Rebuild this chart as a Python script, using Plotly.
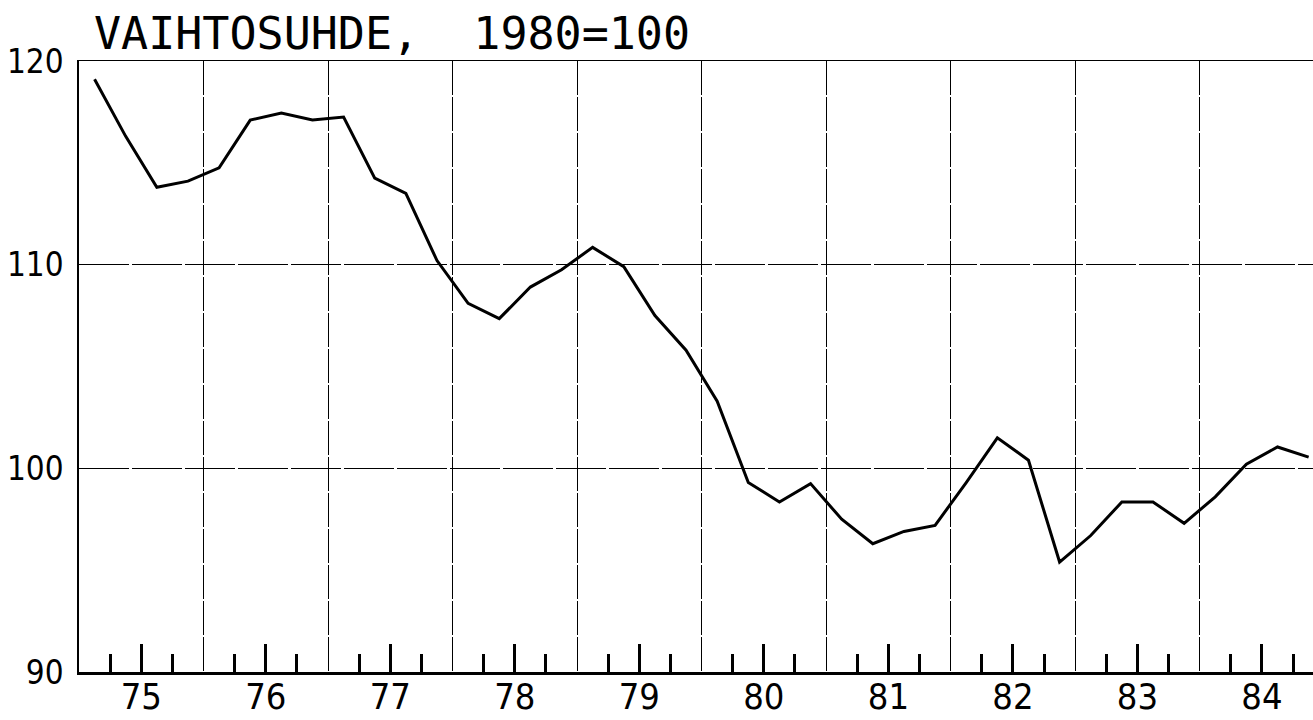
import plotly.graph_objects as go

# ---- data -------------------------------------------------------------
years = [75, 76, 77, 78, 79, 80, 81, 82, 83, 84]
quarters = [1, 2, 3, 4]
values_1975_84 = [
    119.1, 116.3, 113.8, 114.1,     # 75
    114.75, 117.1, 117.45, 117.1,   # 76
    117.25, 114.25, 113.5, 110.2,   # 77
    108.1, 107.35, 108.9, 109.75,   # 78
    110.85, 109.9, 107.5, 105.8,    # 79
    103.3, 99.3, 98.35, 99.25,      # 80
    97.5, 96.3, 96.9, 97.2,         # 81
    99.3, 101.5, 100.4, 95.4,       # 82
    96.7, 98.35, 98.35, 97.3,       # 83
    98.6, 100.2, 101.05, 100.55,    # 84
]
year_labels = ["75", "76", "77", "78", "79", "80", "81", "82", "83", "84"]
y_ticks = [90, 100, 110, 120]
title_text = "VAIHTOSUHDE,  1980=100"

# quarter positions: each year spans [year-0.5, year+0.5]
x_pos = [y - 0.5 + (q - 0.5) / 4 for y in years for q in quarters]
year_bounds = [y - 0.5 for y in years]
quarter_ticks = [y + d for y in years for d in (-0.25, 0.25)]

label_font = "Liberation Sans Narrow, DejaVu Sans Condensed, Arial Narrow, sans-serif"

fig = go.Figure()
fig.add_trace(go.Scatter(
    x=x_pos, y=values_1975_84, mode="lines",
    line=dict(color="black", width=3),
    hoverinfo="skip", showlegend=False,
))
# invisible trace on overlay axis so that its grid (year boundaries) renders
fig.add_trace(go.Scatter(
    x=[year_bounds[0]], y=[y_ticks[0]], xaxis="x2", mode="markers",
    marker=dict(opacity=0), hoverinfo="skip", showlegend=False,
))

fig.update_layout(
    width=1313, height=720,
    margin=dict(l=79, r=0, t=61, b=48),
    paper_bgcolor="white", plot_bgcolor="white",
    xaxis=dict(
        range=[74.5, 84.41], automargin=False,
        tickmode="array", tickvals=years, ticktext=year_labels,
        ticks="inside", ticklen=28, tickwidth=2.5, tickcolor="black",
        minor=dict(tickmode="array", tickvals=quarter_ticks, ticks="inside",
                   ticklen=18, tickwidth=2.5, tickcolor="black", showgrid=False),
        showgrid=False, zeroline=False,
        showline=True, linecolor="black", linewidth=3,
        tickfont=dict(family=label_font, size=36, color="black"),
        ticklabelstandoff=-9,
    ),
    xaxis2=dict(
        overlaying="x", matches="x", side="top", automargin=False,
        tickmode="array", tickvals=year_bounds,
        showticklabels=False, ticks="",
        showgrid=True, gridcolor="black", gridwidth=1.3,
        griddash="34px,2px", zeroline=False,
        showline=True, linecolor="black", linewidth=1.3,
    ),
    yaxis=dict(
        range=[90, 120], automargin=False,
        tickmode="array", tickvals=y_ticks,
        ticks="", showgrid=True, gridcolor="black", gridwidth=1.3,
        griddash="50px,3px",
        zeroline=False, showline=True, linecolor="black", linewidth=1.5,
        tickfont=dict(family=label_font, size=33, color="black"),
        ticklabelstandoff=7,
    ),
    annotations=[dict(
        text=title_text, xref="paper", yref="paper",
        x=0.0105, y=1 + (61 - 33) / 611, xanchor="left", yanchor="middle",
        showarrow=False,
        font=dict(family="DejaVu Sans Mono, Liberation Mono, monospace",
                  size=45, color="black"),
    )],
)

fig.write_html("out.html", config={"displayModeBar": False},
               post_script="document.body.style.margin='0';")
